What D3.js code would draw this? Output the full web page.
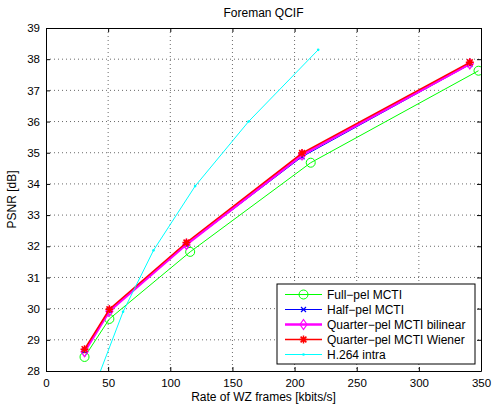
<!DOCTYPE html>
<html>
<head>
<meta charset="utf-8">
<script src="https://cdn.jsdelivr.net/npm/d3@7"></script>
<style>
  body { margin: 0; background: #fff; }
  text { font-family: "Liberation Sans", Arial, sans-serif; }
</style>
</head>
<body>
<div id="chart"></div>
<script>
// rate [kbits/s] and PSNR [dB]
const fullRate = [31, 51, 116, 213, 348];
const fullPsnr = [28.45, 29.67, 31.82, 34.68, 37.63];
const halfRate = [31, 51, 113, 206, 341];
const halfPsnr = [28.64, 29.93, 32.05, 34.87, 37.83];
const bilRate = [31, 51, 113, 206, 341];
const bilPsnr = [28.62, 29.92, 32.06, 34.93, 37.85];
const wienRate = [31, 51, 113, 206, 341];
const wienPsnr = [28.7, 29.98, 32.12, 34.99, 37.9];
const intraRate = [40, 62, 86.5, 120, 163, 219];
const intraPsnr = [27.6, 29.9, 31.87, 33.93, 36.0, 38.3];
const xTicks = [0, 50, 100, 150, 200, 250, 300, 350];
const yTicks = [28, 29, 30, 31, 32, 33, 34, 35, 36, 37, 38, 39];

const series = [
  { name: "Full\u2212pel MCTI", x: fullRate, y: fullPsnr, color: "#00ff00", width: 1, marker: "circle" },
  { name: "Half\u2212pel MCTI", x: halfRate, y: halfPsnr, color: "#0000ff", width: 1, marker: "x" },
  { name: "Quarter\u2212pel MCTI bilinear", x: bilRate, y: bilPsnr, color: "#ff00ff", width: 2.5, marker: "diamond" },
  { name: "Quarter\u2212pel MCTI Wiener", x: wienRate, y: wienPsnr, color: "#ff0000", width: 1.5, marker: "star" },
  { name: "H.264 intra", x: intraRate, y: intraPsnr, color: "#00ffff", width: 1, marker: "dot" }
];

const W = 494, H = 410;
const margin = { top: 28, right: 13, bottom: 39, left: 46 };
const w = W - margin.left - margin.right;
const h = H - margin.top - margin.bottom;

const svg = d3.select("#chart").append("svg").attr("width", W).attr("height", H);
const g = svg.append("g").attr("transform", `translate(${margin.left},${margin.top})`);

const x = d3.scaleLinear().domain([0, 350]).range([0, w]);
const y = d3.scaleLinear().domain([28, 39]).range([h, 0]);

// dotted grid
g.append("g").selectAll("line").data(xTicks.slice(1, -1)).join("line")
  .attr("x1", d => x(d)).attr("x2", d => x(d)).attr("y1", 0).attr("y2", h)
  .attr("stroke", "#444").attr("stroke-width", 0.8).attr("stroke-dasharray", "1,3");
g.append("g").selectAll("line").data(yTicks.slice(1, -1)).join("line")
  .attr("y1", d => y(d)).attr("y2", d => y(d)).attr("x1", 0).attr("x2", w)
  .attr("stroke", "#444").attr("stroke-width", 0.8).attr("stroke-dasharray", "1,3");

// axes, ticks inside
const fmt = d3.format("d");
g.append("g").attr("transform", `translate(0,${h})`)
  .call(d3.axisBottom(x).tickValues(xTicks).tickFormat(fmt).tickSizeInner(-4).tickSizeOuter(0).tickPadding(8));
g.append("g")
  .call(d3.axisLeft(y).tickValues(yTicks).tickFormat(fmt).tickSizeInner(-4).tickSizeOuter(0).tickPadding(6));
g.append("g")
  .call(d3.axisTop(x).tickValues(xTicks).tickFormat("").tickSizeInner(-4).tickSizeOuter(0));
g.append("g").attr("transform", `translate(${w},0)`)
  .call(d3.axisRight(y).tickValues(yTicks).tickFormat("").tickSizeInner(-4).tickSizeOuter(0));
g.selectAll(".domain").attr("stroke", "#000");
g.selectAll(".tick line").attr("stroke", "#000");
g.selectAll(".tick text").attr("font-size", 11.5).attr("fill", "#000")
  .attr("font-family", "Liberation Sans, Arial, sans-serif");

// clip to the axes box
svg.append("defs").append("clipPath").attr("id", "clip")
  .append("rect").attr("width", w).attr("height", h);

function drawMarker(sel, type, color) {
  if (type === "circle") {
    sel.append("circle").attr("r", 4.5).attr("fill", "none").attr("stroke", color).attr("stroke-width", 1);
  } else if (type === "x") {
    sel.append("path").attr("d", "M-2.5,-2.5L2.5,2.5M-2.5,2.5L2.5,-2.5").attr("stroke", color).attr("stroke-width", 1.2);
  } else if (type === "diamond") {
    sel.append("path").attr("d", "M0,-5L3.5,0L0,5L-3.5,0Z").attr("fill", "none").attr("stroke", color).attr("stroke-width", 1.2);
  } else if (type === "star") {
    sel.append("path").attr("d", "M0,-4L0,4M-4,0L4,0M-2.9,-2.9L2.9,2.9M-2.9,2.9L2.9,-2.9").attr("stroke", color).attr("stroke-width", 1.5);
  } else if (type === "dot") {
    sel.append("circle").attr("r", 1.3).attr("fill", color);
  }
}

const plot = g.append("g").attr("clip-path", "url(#clip)");
const line = d3.line().x(d => x(d[0])).y(d => y(d[1]));
series.forEach(s => {
  const pts = s.x.map((v, i) => [v, s.y[i]]);
  plot.append("path").datum(pts).attr("d", line)
    .attr("fill", "none").attr("stroke", s.color).attr("stroke-width", s.width);
  plot.append("g").selectAll("g").data(pts).join("g")
    .attr("transform", d => `translate(${x(d[0])},${y(d[1])})`)
    .each(function () { drawMarker(d3.select(this), s.marker, s.color); });
});

// legend
const lg = svg.append("g").attr("transform", "translate(277,284)");
lg.append("rect").attr("width", 198).attr("height", 80)
  .attr("fill", "#fff").attr("stroke", "#000").attr("stroke-width", 1);
series.forEach((s, i) => {
  const row = lg.append("g").attr("transform", `translate(0,${10.5 + i * 15})`);
  row.append("line").attr("x1", 8).attr("x2", 45).attr("y1", 0).attr("y2", 0)
    .attr("stroke", s.color).attr("stroke-width", s.width);
  drawMarker(row.append("g").attr("transform", "translate(26.5,0)"), s.marker, s.color);
  row.append("text").attr("x", 50).attr("y", 4.5).attr("font-size", 12).text(s.name);
});

// labels
svg.append("text").attr("x", margin.left + w / 2).attr("y", 17)
  .attr("text-anchor", "middle").attr("font-size", 12).text("Foreman QCIF");
svg.append("text").attr("x", margin.left + w / 2).attr("y", 401)
  .attr("text-anchor", "middle").attr("font-size", 12).text("Rate of WZ frames [kbits/s]");
svg.append("text").attr("transform", `translate(16,${margin.top + h / 2}) rotate(-90)`)
  .attr("text-anchor", "middle").attr("font-size", 12).text("PSNR [dB]");
</script>
</body>
</html>
